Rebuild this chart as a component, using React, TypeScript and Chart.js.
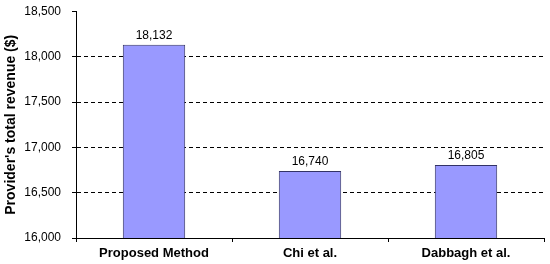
import React, { useEffect, useRef } from "react";
import { Chart, registerables } from "chart.js";

Chart.register(...registerables);

const categories = ["Proposed Method", "Chi et al.", "Dabbagh et al."];
const revenue = [18132, 16740, 16805];
const yMin = 16000;
const yMax = 18500;
const yStep = 500;
const yTitle = "Provider's total revenue ($)";

const FONT = "'Liberation Sans', Arial, sans-serif";

const valueLabels = {
  id: "valueLabels",
  afterDatasetsDraw(chart: any) {
    const ctx = chart.ctx;
    const meta = chart.getDatasetMeta(0);
    ctx.save();
    ctx.font = `12px ${FONT}`;
    ctx.fillStyle = "#000";
    ctx.textAlign = "center";
    ctx.textBaseline = "alphabetic";
    meta.data.forEach((bar: any, i: number) => {
      ctx.fillText(revenue[i].toLocaleString("en-US"), bar.x, bar.y - 6);
    });
    ctx.restore();
  },
};

export default function App() {
  const ref = useRef<HTMLCanvasElement>(null);
  useEffect(() => {
    document.body.style.margin = "0";
    const chart = new Chart(ref.current!, {
      type: "bar",
      data: {
        labels: categories,
        datasets: [
          {
            data: revenue,
            backgroundColor: "#9999FF",
            borderColor: "#333366",
            borderWidth: 1,
            categoryPercentage: 1,
            barPercentage: 0.4,
          },
        ],
      },
      options: {
        animation: false,
        responsive: false,
        maintainAspectRatio: false,
        layout: { padding: { top: 11.5, right: 6, left: 0, bottom: 0 } },
        plugins: { legend: { display: false }, tooltip: { enabled: false } },
        scales: {
          x: {
            grid: {
              offset: true,
              drawOnChartArea: false,
              color: "#000",
              tickColor: "#000",
              tickLength: 4,
            },
            border: { color: "#000", width: 1 },
            ticks: {
              color: "#000",
              padding: 4,
              font: { family: FONT, size: 13, weight: "bold" },
            },
            afterFit(scale: any) {
              scale.height = 26;
              scale.paddingLeft = 0;
              scale.paddingRight = 0;
            },
          },
          y: {
            min: yMin,
            max: yMax,
            ticks: {
              stepSize: yStep,
              color: "#000",
              padding: 11,
              font: { family: FONT, size: 12 },
              callback: (v: any) => Number(v).toLocaleString("en-US"),
            },
            grid: {
              color: (c: any) =>
                c.tick && (c.tick.value === yMin || c.tick.value === yMax) ? "rgba(0,0,0,0)" : "#000",
              tickColor: "#000",
              tickLength: 4,
              tickBorderDash: [],
            } as any,
            border: { color: "#000", width: 1, dash: [4, 3] } as any,
            title: {
              display: true,
              text: yTitle,
              color: "#000",
              padding: { top: 3, bottom: 0 },
              font: { family: FONT, size: 14, weight: "bold" },
            },
            afterFit(scale: any) {
              scale.width = 76;
              scale.paddingTop = 0;
              scale.paddingBottom = 0;
            },
          },
        },
      },
      plugins: [valueLabels],
    });
    return () => chart.destroy();
  }, []);
  return (
    <div style={{ width: 550, height: 264 }}>
      <canvas ref={ref} width={550} height={264} />
    </div>
  );
}
